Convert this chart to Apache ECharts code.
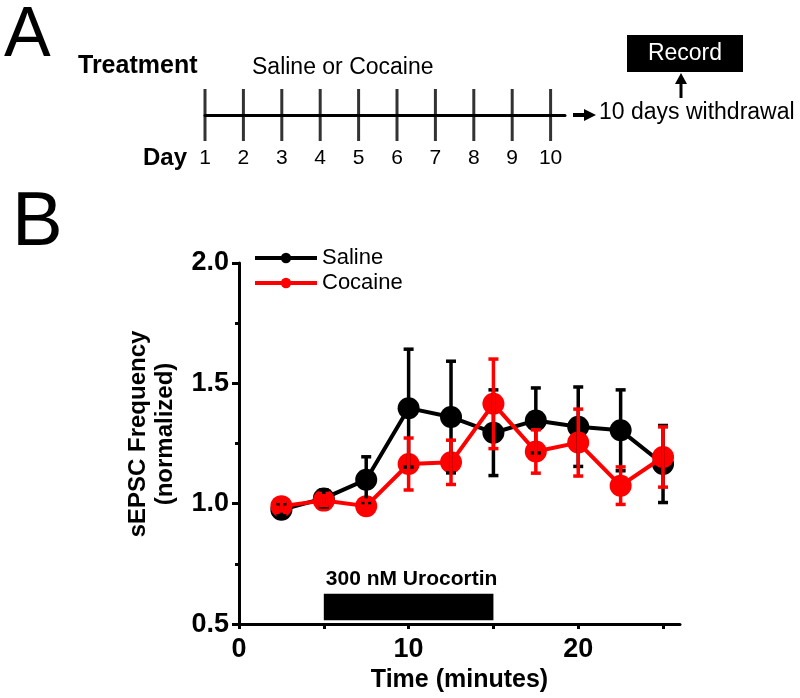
<!DOCTYPE html>
<html>
<head>
<meta charset="utf-8">
<script src="https://cdn.jsdelivr.net/npm/echarts@6/dist/echarts.min.js"></script>
<style>
  html, body { margin: 0; padding: 0; background: #fff; }
  #chart { width: 800px; height: 698px; }
</style>
</head>
<body>
<div id="chart"></div>
<script>
// ---- Data ----
const days = [1, 2, 3, 4, 5, 6, 7, 8, 9, 10];
const time = [2.5, 5, 7.5, 10, 12.5, 15, 17.5, 20, 22.5, 25];
const salineMean = [0.975, 1.022, 1.10, 1.397, 1.36, 1.295, 1.346, 1.32, 1.305, 1.165];
const salineErr = [0.025, 0.035, 0.095, 0.245, 0.232, 0.178, 0.135, 0.165, 0.168, 0.16];
const cocaineMean = [0.99, 1.013, 0.99, 1.165, 1.172, 1.415, 1.217, 1.254, 1.075, 1.194];
const cocaineErr = [0.02, 0.02, 0.025, 0.108, 0.092, 0.186, 0.09, 0.139, 0.078, 0.125];
const treatmentWindow = [5, 15];
const xTickValues = [0, 5, 10, 15, 20, 25];
const xTickLabels = [0, 10, 20];
const yTickLabels = ['0.5', '1.0', '1.5', '2.0'];

const FONT = "'Liberation Sans', Arial, sans-serif";
const chart = echarts.init(document.getElementById('chart'), null, { renderer: 'canvas' });

function errRender(color) {
  return function (params, api) {
    const x = api.value(0), m = api.value(1), e = api.value(2);
    const top = api.coord([x, m + e]);
    const bot = api.coord([x, m - e]);
    const cap = 5;
    const style = { stroke: color, lineWidth: 3.5 };
    return {
      type: 'group',
      children: [
        { type: 'line', shape: { x1: top[0], y1: top[1], x2: bot[0], y2: bot[1] }, style: style },
        { type: 'line', shape: { x1: top[0] - cap, y1: top[1], x2: top[0] + cap, y2: top[1] }, style: style },
        { type: 'line', shape: { x1: bot[0] - cap, y1: bot[1], x2: bot[0] + cap, y2: bot[1] }, style: style }
      ]
    };
  };
}

const option = {
  animation: false,
  backgroundColor: '#fff',
  textStyle: { fontFamily: FONT },
  grid: [
    { left: 239, top: 263, right: 120, bottom: 67, containLabel: false },
    { left: 205, top: 88, width: 360, height: 54, containLabel: false }
  ],
  legend: {
    data: ['Saline', 'Cocaine'],
    orient: 'vertical',
    left: 248,
    top: 242,
    itemWidth: 62,
    itemHeight: 13,
    itemGap: 3,
    lineStyle: { width: 4 },
    textStyle: { fontSize: 22, color: '#000', fontFamily: FONT },
    selectedMode: false
  },
  xAxis: [
    {
      gridIndex: 0, type: 'value', min: 0, max: 26,
      axisLine: { lineStyle: { color: '#000', width: 3 } },
      axisTick: { show: true, customValues: xTickValues, length: 5, lineStyle: { color: '#000', width: 3 } },
      axisLabel: { customValues: xTickLabels, fontSize: 27, fontWeight: 'bold', color: '#000', margin: 12, fontFamily: FONT },
      splitLine: { show: false },
      name: 'Time (minutes)', nameLocation: 'middle', nameGap: 36,
      nameTextStyle: { fontSize: 25, fontWeight: 'bold', color: '#000', fontFamily: FONT, padding: [0, 0, 0, 0] }
    },
    {
      gridIndex: 1, type: 'value', min: 1, max: 10.375,
      axisLine: { onZero: true, lineStyle: { color: '#000', width: 3 } },
      axisTick: { show: false },
      axisLabel: { customValues: days, fontSize: 21, color: '#000', margin: 6, fontFamily: FONT },
      splitLine: { show: false }
    }
  ],
  yAxis: [
    {
      gridIndex: 0, type: 'value', min: 0.5, max: 2.0, interval: 0.5,
      axisLine: { show: true, lineStyle: { color: '#000', width: 3 } },
      axisTick: { show: true, length: 7, lineStyle: { color: '#000', width: 3 } },
      minorTick: { show: true, splitNumber: 2, length: 4, lineStyle: { color: '#000', width: 3 } },
      axisLabel: {
        fontSize: 27, fontWeight: 'bold', color: '#000', margin: 10, fontFamily: FONT,
        formatter: function (v) { const s = v.toFixed(1); return yTickLabels.indexOf(s) >= 0 ? s : ''; }
      },
      splitLine: { show: false }
    },
    {
      gridIndex: 1, type: 'value', min: -1, max: 1, show: false
    }
  ],
  series: [
    {
      name: 'Saline', type: 'line', xAxisIndex: 0, yAxisIndex: 0,
      data: time.map((t, i) => [t, salineMean[i]]),
      symbol: 'circle', symbolSize: 22, z: 2,
      lineStyle: { color: '#000', width: 4 },
      itemStyle: { color: '#000' },
      markArea: {
        silent: true,
        itemStyle: { color: '#000', borderWidth: 0 },
        label: {
          show: true, position: [2, -4], align: 'left', verticalAlign: 'bottom',
          fontSize: 21, fontWeight: 'bold', color: '#000', fontFamily: FONT,
          formatter: '300 nM Urocortin'
        },
        data: [[{ xAxis: treatmentWindow[0], yAxis: 0.516 }, { xAxis: treatmentWindow[1], yAxis: 0.626 }]]
      }
    },
    {
      name: 'Cocaine', type: 'line', xAxisIndex: 0, yAxisIndex: 0,
      data: time.map((t, i) => [t, cocaineMean[i]]),
      symbol: 'circle', symbolSize: 22, z: 3,
      lineStyle: { color: '#ff0000', width: 4 },
      itemStyle: { color: '#ff0000' }
    },
    {
      name: 'SalineErr', type: 'custom', xAxisIndex: 0, yAxisIndex: 0, z: 4,
      renderItem: errRender('#000'),
      data: time.map((t, i) => [t, salineMean[i], salineErr[i]])
    },
    {
      name: 'CocaineErr', type: 'custom', xAxisIndex: 0, yAxisIndex: 0, z: 5,
      renderItem: errRender('#ff0000'),
      data: time.map((t, i) => [t, cocaineMean[i], cocaineErr[i]])
    },
    {
      name: 'Days', type: 'scatter', xAxisIndex: 1, yAxisIndex: 1,
      data: days.map(d => [d, 0]),
      symbol: 'rect', symbolSize: [3, 52],
      itemStyle: { color: '#000' }, silent: true
    }
  ],
  graphic: [
    { type: 'text', left: 4, top: 2, style: { text: 'A', fontSize: 70, fontFamily: FONT, fill: '#000' } },
    { type: 'text', x: 12, y: 224.5, style: { text: 'B', fontSize: 76, fontFamily: FONT, fill: '#000', verticalAlign: 'middle', align: 'left' } },
    { type: 'text', x: 78, y: 66, style: { text: 'Treatment', fontSize: 25, fontWeight: 'bold', fontFamily: FONT, fill: '#000', verticalAlign: 'middle' } },
    { type: 'text', x: 252, y: 68, style: { text: 'Saline or Cocaine', fontSize: 23, fontFamily: FONT, fill: '#000', verticalAlign: 'middle' } },
    { type: 'text', x: 143, y: 158, style: { text: 'Day', fontSize: 24, fontWeight: 'bold', fontFamily: FONT, fill: '#000', verticalAlign: 'middle' } },
    { type: 'rect', shape: { x: 573, y: 113, width: 13, height: 4 }, style: { fill: '#000' } },
    { type: 'polygon', shape: { points: [[584, 109], [596, 115], [584, 121]] }, style: { fill: '#000' } },
    { type: 'text', x: 599, y: 113, style: { text: '10 days withdrawal', fontSize: 23, fontFamily: FONT, fill: '#000', verticalAlign: 'middle' } },
    { type: 'rect', shape: { x: 627, y: 35, width: 116, height: 37 }, style: { fill: '#000' } },
    { type: 'text', x: 685, y: 54, style: { text: 'Record', fontSize: 23, fontFamily: FONT, fill: '#fff', align: 'center', verticalAlign: 'middle' } },
    { type: 'rect', shape: { x: 679.5, y: 82, width: 3, height: 16 }, style: { fill: '#000' } },
    { type: 'polygon', shape: { points: [[675, 84], [681, 73], [687, 84]] }, style: { fill: '#000' } },
    {
      type: 'text', x: 152, y: 434, rotation: Math.PI / 2,
      style: { text: 'sEPSC Frequency\n(normalized)', fontSize: 24, fontWeight: 'bold', fontFamily: FONT, fill: '#000', align: 'center', verticalAlign: 'middle', lineHeight: 27 }
    }
  ]
};
chart.setOption(option);
</script>
</body>
</html>
